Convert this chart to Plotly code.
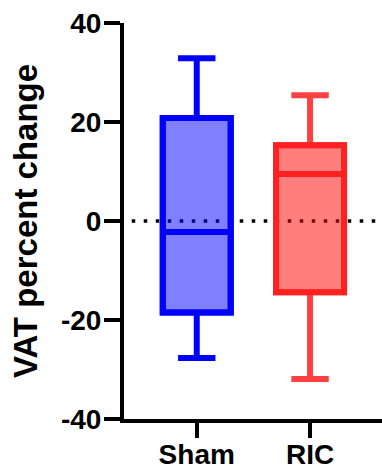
import plotly.graph_objects as go

groups = ["Sham", "RIC"]
lower_whisker = [-27.7, -31.9]
q1 = [-18.5, -14.4]
median = [-2.2, 9.5]
q3 = [20.8, 15.3]
upper_whisker = [32.9, 25.4]

y_ticks = [-40, -20, 0, 20, 40]
y_tick_labels = ["-40", "-20", "0", "20", "40"]

fill_colors = ["rgba(0,0,255,0.5)", "rgba(255,0,0,0.5)"]
whisker_colors = ["#0000FF", "#FF4040"]
box_colors = ["#0000FF", "#FF2020"]

FONT = "Liberation Sans, Arial, sans-serif"

fig = go.Figure()
for i, g in enumerate(groups):
    # whiskers + filled box
    fig.add_trace(go.Box(
        x=[g], q1=[q1[i]], median=[median[i]], q3=[q3[i]],
        lowerfence=[lower_whisker[i]], upperfence=[upper_whisker[i]],
        fillcolor=fill_colors[i], line=dict(color=whisker_colors[i], width=6),
        width=0.6, whiskerwidth=0.55, boxpoints=False, hoverinfo="skip",
        showlegend=False,
    ))
    # box outline + median on top
    fig.add_trace(go.Box(
        x=[g], q1=[q1[i]], median=[median[i]], q3=[q3[i]],
        lowerfence=[q1[i]], upperfence=[q3[i]],
        fillcolor="rgba(0,0,0,0)", line=dict(color=box_colors[i], width=6),
        width=0.6, whiskerwidth=0.55, boxpoints=False, hoverinfo="skip",
        showlegend=False,
    ))

fig.add_shape(type="line", xref="paper", yref="y", x0=0.03, x1=1, y0=0, y1=0,
              line=dict(color="black", width=3.5, dash="3.5px,8.5px"), layer="below")

fig.update_layout(
    width=382, height=471,
    margin=dict(l=124, r=0, t=23, b=52, autoexpand=False),
    paper_bgcolor="white", plot_bgcolor="white",
    boxmode="overlay",
    font=dict(family=FONT, color="black"),
    xaxis=dict(
        range=[-0.642, 1.635], showgrid=False, zeroline=False, automargin=False,
        showline=True, linecolor="black", linewidth=4,
        ticks="outside", ticklen=15, tickwidth=4, tickcolor="black",
        ticklabelstandoff=-8,
        tickfont=dict(family=FONT, size=28, weight="bold", color="black"),
    ),
    yaxis=dict(
        range=[-40, 40], tickvals=y_ticks, ticktext=y_tick_labels,
        showgrid=False, zeroline=False, automargin=False,
        showline=True, linecolor="black", linewidth=4,
        ticks="outside", ticklen=16, tickwidth=4, tickcolor="black",
        ticklabelstandoff=-3,
        tickfont=dict(family=FONT, size=28, weight="bold", color="black"),
        title=dict(text="VAT percent change", standoff=14,
                   font=dict(family=FONT, size=33, weight="bold", color="black")),
    ),
)

fig.write_html("out.html")
